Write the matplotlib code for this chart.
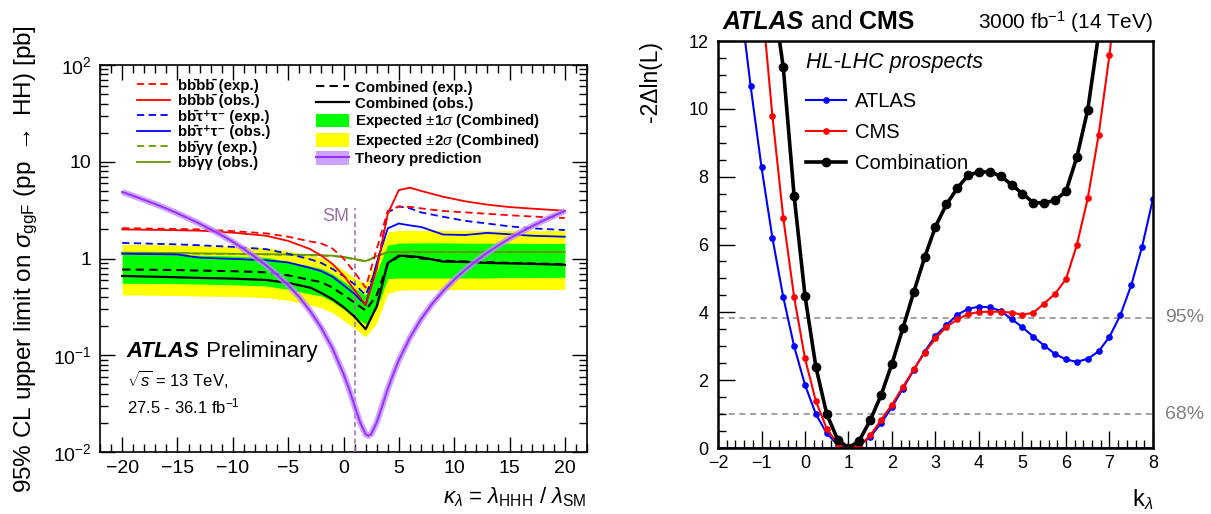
import matplotlib
matplotlib.use("Agg")
import matplotlib.pyplot as plt
from matplotlib.lines import Line2D
from matplotlib.patches import Patch
from matplotlib.ticker import MultipleLocator, FixedLocator, FixedFormatter, LogLocator, NullFormatter

plt.rcParams['font.family'] = ['Liberation Sans', 'DejaVu Sans']
plt.rcParams['mathtext.fontset'] = 'custom'
plt.rcParams['mathtext.rm'] = 'Liberation Sans'
plt.rcParams['mathtext.it'] = 'Liberation Sans:italic'
plt.rcParams['mathtext.bf'] = 'Liberation Sans:bold'

# ---- left: 95% CL limits on sigma_ggF(HH) vs kappa_lambda ----
k_lim = [-20, -15, -13, -10, -7, -5, -3, -2, -1, 0, 1, 2, 3, 4, 5, 6, 7, 9, 11, 13, 15, 17, 20]

bbbb_exp = [2.06, 2.02, 2.00, 1.92, 1.82, 1.68, 1.50, 1.43, 1.27, 1.00, 0.72, 0.50, 1.25, 3.10, 3.45, 3.42, 3.30, 3.10, 3.00, 2.90, 2.80, 2.72, 2.62]
bbbb_obs = [2.00, 1.96, 1.94, 1.85, 1.72, 1.52, 1.25, 1.07, 0.88, 0.67, 0.47, 0.33, 0.78, 2.90, 5.10, 5.40, 5.00, 4.35, 3.90, 3.60, 3.40, 3.28, 3.12]
bbtt_exp = [1.45, 1.40, 1.37, 1.32, 1.25, 1.12, 0.98, 0.90, 0.78, 0.66, 0.54, 0.42, 0.80, 3.00, 3.45, 3.30, 3.00, 2.70, 2.45, 2.30, 2.15, 2.05, 1.97]
bbtt_obs = [1.12, 1.10, 1.02, 0.99, 0.96, 0.91, 0.80, 0.74, 0.65, 0.53, 0.43, 0.33, 0.90, 2.05, 2.30, 2.20, 2.12, 1.77, 1.75, 1.84, 1.78, 1.72, 1.68]
bbyy_exp = [1.14, 1.13, 1.12, 1.11, 1.10, 1.09, 1.08, 1.07, 1.06, 1.03, 0.98, 0.93, 1.05, 1.16, 1.16, 1.16, 1.16, 1.16, 1.16, 1.16, 1.16, 1.16, 1.16]
bbyy_obs = [1.15, 1.14, 1.13, 1.12, 1.11, 1.10, 1.09, 1.08, 1.07, 1.04, 0.99, 0.94, 1.06, 1.17, 1.17, 1.17, 1.17, 1.17, 1.17, 1.17, 1.17, 1.17, 1.17]
comb_exp = [0.77, 0.76, 0.75, 0.74, 0.72, 0.67, 0.60, 0.57, 0.50, 0.42, 0.35, 0.29, 0.42, 0.88, 1.05, 1.04, 1.00, 0.95, 0.93, 0.92, 0.90, 0.89, 0.875]
comb_obs = [0.66, 0.64, 0.63, 0.62, 0.60, 0.56, 0.50, 0.44, 0.38, 0.315, 0.25, 0.186, 0.32, 0.90, 1.07, 1.06, 1.03, 0.93, 0.92, 0.90, 0.89, 0.88, 0.86]
band1_lo = [0.555, 0.55, 0.545, 0.535, 0.52, 0.48, 0.43, 0.41, 0.36, 0.30, 0.25, 0.21, 0.305, 0.62, 0.63, 0.63, 0.63, 0.63, 0.63, 0.63, 0.635, 0.635, 0.64]
band1_hi = [1.10, 1.09, 1.08, 1.06, 1.03, 0.93, 0.83, 0.79, 0.69, 0.58, 0.49, 0.42, 0.73, 1.38, 1.44, 1.45, 1.45, 1.45, 1.44, 1.44, 1.44, 1.43, 1.43]
band2_lo = [0.42, 0.415, 0.41, 0.405, 0.395, 0.37, 0.33, 0.31, 0.275, 0.23, 0.19, 0.155, 0.215, 0.435, 0.47, 0.475, 0.475, 0.475, 0.48, 0.48, 0.48, 0.48, 0.48]
band2_hi = [1.40, 1.38, 1.36, 1.33, 1.29, 1.20, 1.08, 1.02, 0.90, 0.76, 0.63, 0.55, 1.00, 1.89, 1.95, 1.95, 1.95, 1.95, 1.95, 1.95, 1.95, 1.94, 1.94]

k_th = [-20, -19, -18, -17, -16, -15, -14, -13, -12, -11, -10, -9, -8, -7, -6, -5, -4, -3, -2, -1,
        0, 0.5, 1, 1.5, 2, 2.25, 2.5, 3, 3.5, 4, 4.5,
        5, 6, 7, 8, 9, 10, 11, 12, 13, 14, 15, 16, 17, 18, 19, 20]
xs_th = [4.87, 4.44, 4.03, 3.65, 3.28, 2.93, 2.60, 2.29, 2.00, 1.74, 1.49, 1.25, 1.04, 0.85, 0.68, 0.53, 0.40, 0.285, 0.192, 0.118,
         0.064, 0.045, 0.030, 0.0202, 0.0153, 0.0147, 0.0153, 0.0202, 0.030, 0.045, 0.064,
         0.089, 0.152, 0.236, 0.339, 0.461, 0.603, 0.765, 0.946, 1.147, 1.368, 1.608, 1.868, 2.147, 2.446, 2.764, 3.10]

sm_kappa = 1.0
sm_line_top = 3.3

# ---- right: HL-LHC likelihood scan ----
k_atlas = [-1.5, -1.25, -1.0, -0.75, -0.5, -0.25, 0.0, 0.25, 0.5, 0.75, 1.0, 1.25, 1.5, 1.75, 2.0, 2.25, 2.5, 2.75,
           3.0, 3.25, 3.5, 3.75, 4.0, 4.25, 4.5, 4.75, 5.0, 5.25, 5.5, 5.75, 6.0, 6.25, 6.5, 6.75, 7.0, 7.25, 7.5, 7.75, 8.0]
nll_atlas = [13.3, 10.67, 8.28, 6.2, 4.45, 3.0, 1.86, 1.0, 0.43, 0.1, 0.0, 0.08, 0.33, 0.73, 1.21, 1.75, 2.30, 2.84,
             3.31, 3.62, 3.93, 4.10, 4.17, 4.15, 4.04, 3.80, 3.56, 3.28, 3.02, 2.77, 2.61, 2.54, 2.63, 2.85, 3.28, 3.92, 4.80, 5.94, 7.35]
k_cms = [-1.0, -0.75, -0.5, -0.25, 0.0, 0.25, 0.5, 0.75, 1.0, 1.25, 1.5, 1.75, 2.0, 2.25, 2.5, 2.75,
         3.0, 3.25, 3.5, 3.75, 4.0, 4.25, 4.5, 4.75, 5.0, 5.25, 5.5, 5.75, 6.0, 6.25, 6.5, 6.75, 7.0, 7.25]
nll_cms = [13.3, 9.80, 6.79, 4.45, 2.64, 1.38, 0.57, 0.12, 0.0, 0.06, 0.37, 0.83, 1.28, 1.80, 2.32, 2.81,
           3.23, 3.57, 3.79, 3.95, 4.01, 4.02, 4.02, 3.99, 3.93, 3.99, 4.26, 4.55, 4.98, 5.99, 7.36, 9.23, 11.6, 14.5]
k_comb = [-0.75, -0.5, -0.25, 0.0, 0.25, 0.5, 0.75, 1.0, 1.25, 1.5, 1.75, 2.0, 2.25, 2.5, 2.75,
          3.0, 3.25, 3.5, 3.75, 4.0, 4.25, 4.5, 4.75, 5.0, 5.25, 5.5, 5.75, 6.0, 6.25, 6.5, 6.75]
nll_comb = [13.5, 11.23, 7.43, 4.49, 2.39, 1.00, 0.25, 0.0, 0.22, 0.82, 1.56, 2.49, 3.53, 4.60, 5.62,
            6.53, 7.18, 7.66, 8.04, 8.14, 8.14, 8.02, 7.76, 7.50, 7.23, 7.23, 7.30, 7.57, 8.58, 9.97, 12.2]

cl_levels = [3.84, 1.0]
cl_labels = ['95%', '68%']

fig = plt.figure(figsize=(12.11, 5.14), dpi=100)
ax1 = fig.add_axes([0.0826, 0.1206, 0.4021, 0.7529])
ax2 = fig.add_axes([0.5929, 0.1284, 0.3592, 0.7918])

olive = '#669900'
violet = '#9933ff'
dash = (0, (4, 2.5))

ax1.fill_between(k_lim, band2_lo, band2_hi, color='#ffff00', lw=0, zorder=1)
ax1.fill_between(k_lim, band1_lo, band1_hi, color='#00ff00', lw=0, zorder=2)
ax1.vlines(sm_kappa, 0.01, sm_line_top, colors='#a077b0', linestyles=(0, (3, 2)), lw=1.2, zorder=3)
ax1.plot(k_lim, bbyy_exp, color=olive, ls=dash, lw=1.3, zorder=4)
ax1.plot(k_lim, bbyy_obs, color=olive, lw=1.3, zorder=4)
ax1.plot(k_lim, bbtt_exp, color='#0000ff', ls=dash, lw=1.3, zorder=4)
ax1.plot(k_lim, bbtt_obs, color='#0000ff', lw=1.3, zorder=4)
ax1.plot(k_lim, bbbb_exp, color='#ff0000', ls=dash, lw=1.3, zorder=4)
ax1.plot(k_lim, bbbb_obs, color='#ff0000', lw=1.3, zorder=4)
ax1.plot(k_lim, comb_exp, color='black', ls=dash, lw=1.5, zorder=5)
ax1.plot(k_lim, comb_obs, color='black', lw=1.6, zorder=5)
ax1.plot(k_th, xs_th, color='#c08cff', lw=4.5, alpha=0.75, solid_capstyle='butt', zorder=6)
ax1.plot(k_th, xs_th, color=violet, lw=1.5, zorder=7)

ax1.set_yscale('log')
ax1.set_xlim(-22, 22)
ax1.set_ylim(0.01, 100)
ax1.xaxis.set_major_locator(MultipleLocator(5))
ax1.xaxis.set_minor_locator(MultipleLocator(1))
ax1.yaxis.set_major_locator(FixedLocator([0.01, 0.1, 1, 10, 100]))
ax1.yaxis.set_major_formatter(FixedFormatter(['$10^{-2}$', '$10^{-1}$', '1', '10', '$10^{2}$']))
ax1.yaxis.set_minor_locator(LogLocator(base=10, subs=range(2, 10)))
ax1.yaxis.set_minor_formatter(NullFormatter())
ax1.tick_params(which='both', direction='in', top=True, right=True, labelsize=14, width=1)
ax1.tick_params(which='major', length=11, pad=6)
ax1.tick_params(which='minor', length=5.5)
for s in ax1.spines.values():
    s.set_linewidth(1.2)

ax1.set_ylabel(r'95% CL upper limit on $\sigma_{\mathrm{ggF}}$ (pp $\rightarrow$ HH) [pb]', fontsize=17.5, labelpad=9)
ax1.text(1.0, -0.085, r'$\kappa_{\lambda}$ = $\lambda_{\mathrm{HHH}}$ / $\lambda_{\mathrm{SM}}$',
         transform=ax1.transAxes, ha='right', va='top', fontsize=16)
ax1.text(0.5, 2.7, 'SM', color='#9a6fa6', fontsize=13, ha='right', va='center')

t = ax1.text(0.055, 0.245, 'ATLAS', transform=ax1.transAxes, fontsize=16, weight='bold', style='italic')
ax1.annotate(' Preliminary', xy=(1, 0), xycoords=t, va='bottom', fontsize=16)
ax1.text(0.055, 0.17, r'$\sqrt{s}$ = 13 TeV,', transform=ax1.transAxes, fontsize=12)
ax1.text(0.055, 0.1, r'27.5 - 36.1 fb$^{-1}$', transform=ax1.transAxes, fontsize=12)

# channel entries: b-bbar written with a combining macron
bb = 'bb\u0304'
h_left = [Line2D([], [], color='#ff0000', ls=dash, lw=1.3),
          Line2D([], [], color='#ff0000', lw=1.3),
          Line2D([], [], color='#0000ff', ls=dash, lw=1.3),
          Line2D([], [], color='#0000ff', lw=1.3),
          Line2D([], [], color=olive, ls=dash, lw=1.3),
          Line2D([], [], color=olive, lw=1.3)]
l_left = [bb + bb + ' (exp.)', bb + bb + ' (obs.)',
          bb + '\u03c4\u207a\u03c4\u207b (exp.)', bb + '\u03c4\u207a\u03c4\u207b (obs.)',
          bb + '\u03b3\u03b3 (exp.)', bb + '\u03b3\u03b3 (obs.)']
leg1 = ax1.legend(h_left, l_left, loc='upper left', bbox_to_anchor=(0.076, 0.965), frameon=False,
                  prop={'weight': 'bold', 'size': 10.8}, handlelength=2.2, handletextpad=0.5,
                  labelspacing=0.09, borderpad=0, borderaxespad=0)
ax1.add_artist(leg1)

h_right = [Line2D([], [], color='black', ls=dash, lw=1.5),
           Line2D([], [], color='black', lw=1.6),
           Patch(color='#00ff00', lw=0),
           Patch(color='#ffff00', lw=0),
           (Patch(color='#c08cff', alpha=0.8, lw=0), Line2D([], [], color=violet, lw=1.5))]
l_right = ['Combined (exp.)', 'Combined (obs.)', r'Expected $\pm\mathbf{1}\sigma$ (Combined)',
           r'Expected $\pm\mathbf{2}\sigma$ (Combined)', 'Theory prediction']
ax1.legend(h_right, l_right, loc='upper left', bbox_to_anchor=(0.4435, 0.962), frameon=False,
           prop={'weight': 'bold', 'size': 10.8}, handlelength=2.2, handletextpad=0.4, handleheight=1.0,
           labelspacing=0.1, borderpad=0, borderaxespad=0)

# right panel
yaxis_tr = ax2.get_yaxis_transform()
for lvl, lab in zip(cl_levels, cl_labels):
    ax2.axhline(lvl, color='#888888', ls=(0, (4, 3)), lw=1.1, zorder=1)
    ax2.text(1.028, lvl, lab, transform=yaxis_tr, color='#808080', fontsize=14, va='center', clip_on=False)
ax2.axhline(0, color='#1a1aa0', lw=2.0, zorder=2)

ax2.plot(k_atlas, nll_atlas, color='#0000ff', lw=1.5, marker='o', ms=3.8, zorder=3)
ax2.plot(k_cms, nll_cms, color='#ff0000', lw=1.5, marker='o', ms=3.8, zorder=4)
ax2.plot(k_comb, nll_comb, color='black', lw=2.6, marker='o', ms=6, zorder=5)

ax2.set_xlim(-2, 8)
ax2.set_ylim(0, 12)
ax2.xaxis.set_major_locator(MultipleLocator(1))
ax2.xaxis.set_minor_locator(MultipleLocator(0.2))
ax2.yaxis.set_major_locator(MultipleLocator(2))
ax2.yaxis.set_minor_locator(MultipleLocator(0.5))
ax2.tick_params(which='both', direction='in', top=False, right=False, labelsize=13, width=1)
ax2.tick_params(which='major', length=12)
ax2.tick_params(axis='x', which='major', pad=5)
ax2.tick_params(axis='y', which='major', pad=7)
ax2.tick_params(which='minor', length=6)
for s in ax2.spines.values():
    s.set_linewidth(1.8)
    s.set_zorder(6)

ax2.text(1.0, -0.095, r'k$_{\lambda}$', transform=ax2.transAxes, ha='right', va='top', fontsize=17)
ax2.set_ylabel('-2\u0394ln(L)', fontsize=16.5, loc='top', labelpad=19)

t2 = ax2.text(0.01, 1.03, 'ATLAS', transform=ax2.transAxes, fontsize=18, weight='bold', style='italic')
t3 = ax2.annotate(' and ', xy=(1, 0), xycoords=t2, va='bottom', fontsize=18)
ax2.annotate('CMS', xy=(1, 0), xycoords=t3, va='bottom', fontsize=18, weight='bold')
ax2.text(1.0, 1.03, r'3000 fb$^{-1}$ (14 TeV)', transform=ax2.transAxes, ha='right', fontsize=15)
ax2.text(0.2023, 0.948, 'HL-LHC prospects', transform=ax2.transAxes, style='italic', fontsize=15.5, va='center')

h2 = [Line2D([], [], color='#0000ff', lw=1.5, marker='o', ms=3.8),
      Line2D([], [], color='#ff0000', lw=1.5, marker='o', ms=3.8),
      Line2D([], [], color='black', lw=2.6, marker='o', ms=6)]
ax2.legend(h2, ['ATLAS', 'CMS', 'Combination'], loc='upper left', bbox_to_anchor=(0.2023, 0.875), frameon=False,
           fontsize=14.5, handlelength=2.0, handletextpad=0.43, labelspacing=0.6, numpoints=1,
           borderpad=0, borderaxespad=0)

fig.savefig('out.png', dpi=100)
